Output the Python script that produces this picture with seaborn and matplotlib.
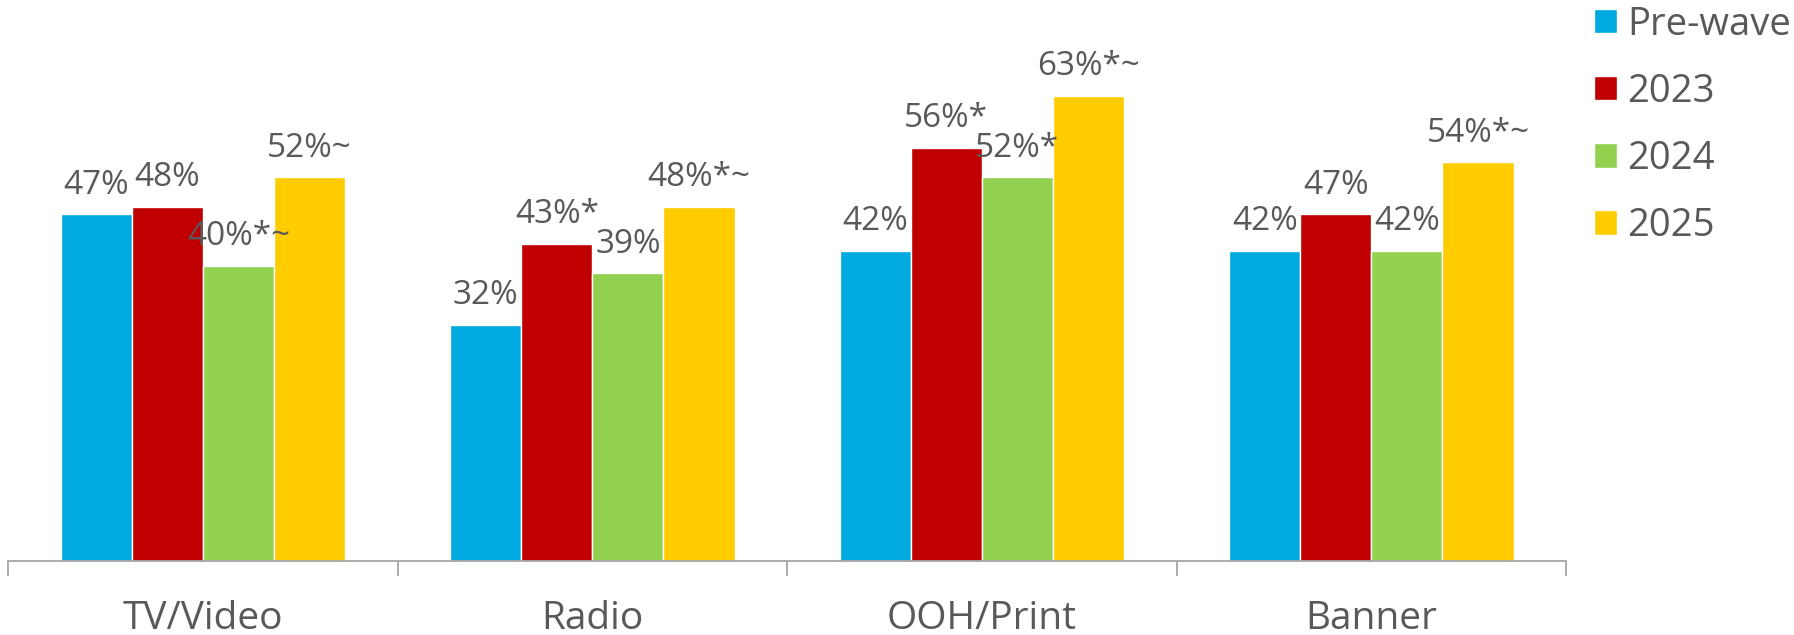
import pandas as pd
import matplotlib.pyplot as plt
import seaborn as sns
from matplotlib.patches import Patch

# données
categories = ["TV/Video", "Radio", "OOH/Print", "Banner"]
series = ["Pre-wave", "2023", "2024", "2025"]
values = {
    "Pre-wave": [47, 32, 42, 42],
    "2023": [48, 43, 56, 47],
    "2024": [40, 39, 52, 42],
    "2025": [52, 48, 63, 54],
}
labels = {
    "Pre-wave": ["47%", "32%", "42%", "42%"],
    "2023": ["48%", "43%*", "56%*", "47%"],
    "2024": ["40%*~", "39%", "52%*", "42%"],
    "2025": ["52%~", "48%*~", "63%*~", "54%*~"],
}
colors = ["#00A9E0", "#C00000", "#92D050", "#FFCC00"]
grey = "#595959"

rows = []
for s in series:
    for c, v in zip(categories, values[s]):
        rows.append({"cat": c, "serie": s, "val": v})
df = pd.DataFrame(rows)

sns.set_style("white")
plt.rcParams['font.family'] = ['Open Sans', 'DejaVu Sans']

fig = plt.figure(figsize=(17.94, 6.35), dpi=100)
ax = fig.add_axes([0.0045, 0.1165, 0.8685, 0.8835])

sns.barplot(data=df, x="cat", y="val", hue="serie", hue_order=series,
            palette=colors, width=0.73, gap=0, saturation=1,
            legend=False, ax=ax)

# étiquettes
for cont, s in zip(ax.containers, series):
    ax.bar_label(cont, labels=labels[s], padding=9, fontsize=24, color=grey)

ax.set_ylim(0, 76)
ax.set_xlim(-0.5, 3.5)
ax.set_xlabel("")
ax.set_ylabel("")
ax.set_yticks([])
for sp in ["top", "right", "left"]:
    ax.spines[sp].set_visible(False)
ax.spines["bottom"].set_color("#A6A6A6")
ax.spines["bottom"].set_linewidth(1.3)

ax.set_xticks([-0.5, 0.5, 1.5, 2.5, 3.5], minor=True)
ax.tick_params(axis="x", which="minor", length=11, width=1.3, color="#A6A6A6", bottom=True)
ax.tick_params(axis="x", which="major", length=0, pad=28, labelsize=28, labelcolor=grey)

handles = [Patch(facecolor=c, label=s) for c, s in zip(colors, series)]
fig.legend(handles=handles, loc="upper left", bbox_to_anchor=(0.8695, 1.045),
           frameon=False, fontsize=27.5, labelcolor=grey, handlelength=0.6,
           handleheight=0.6, handletextpad=0.27, labelspacing=0.76)

plt.savefig("out.png", dpi=100)
plt.close()
